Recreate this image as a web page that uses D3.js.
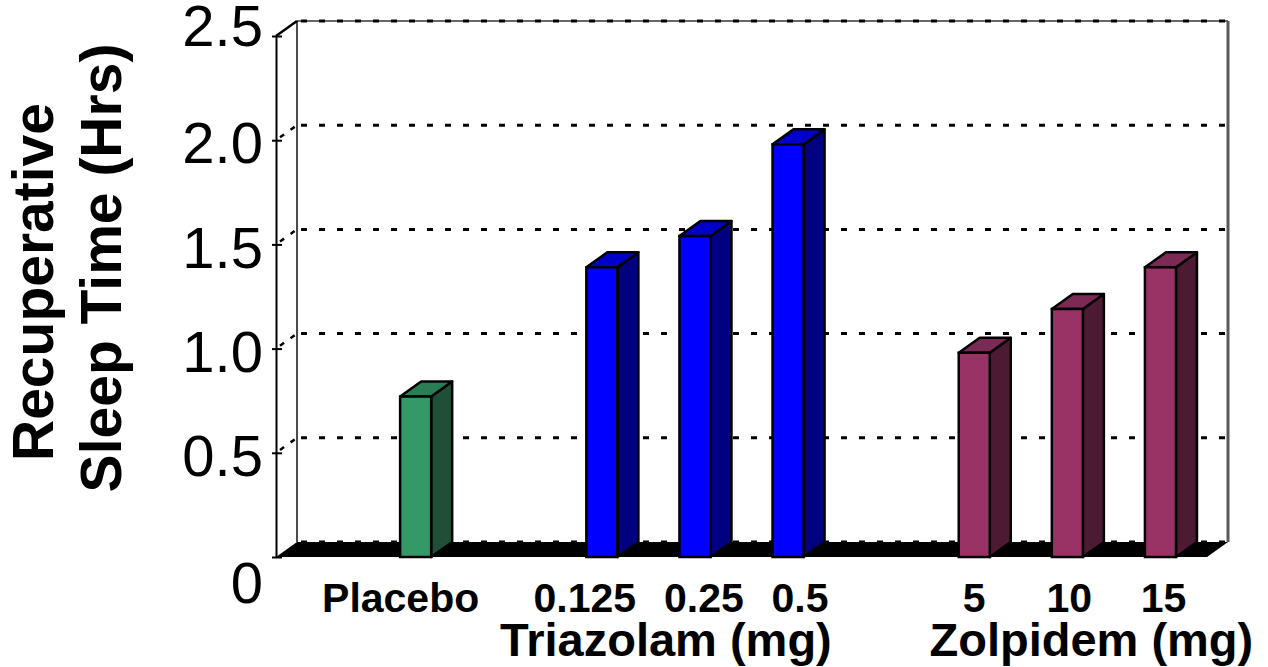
<!DOCTYPE html>
<html>
<head>
<meta charset="utf-8">
<script src="https://cdn.jsdelivr.net/npm/d3@7/dist/d3.min.js"></script>
<style>
  html, body { margin: 0; padding: 0; background: #fff; }
  svg { display: block; font-family: "Liberation Sans", Arial, Helvetica, sans-serif; }
</style>
</head>
<body>
<svg id="chart" width="1268" height="667"></svg>
<script>
// ---------- data ----------
const categories = ["Placebo", "0.125", "0.25", "0.5", "5", "10", "15"];
const groups     = ["Placebo", "Triazolam", "Triazolam", "Triazolam", "Zolpidem", "Zolpidem", "Zolpidem"];
const values     = [0.77, 1.39, 1.54, 1.98, 0.98, 1.19, 1.39];
const groupNames  = ["Placebo", "Triazolam", "Zolpidem"];
const groupTitles = ["", "Triazolam (mg)", "Zolpidem (mg)"];
const yTicks      = [0, 0.5, 1.0, 1.5, 2.0, 2.5];
const yTickLabels = ["0", "0.5", "1.0", "1.5", "2.0", "2.5"];
const yTitleLines = ["Recuperative", "Sleep Time (Hrs)"];

// ---------- style / layout ----------
const palette = {
  Placebo:   { front: "#339966", side: "#1f4f36", top: "#2b7d55" },
  Triazolam: { front: "#0000ff", side: "#000080", top: "#0000c8" },
  Zolpidem:  { front: "#993366", side: "#4d1a33", top: "#7a2a55" }
};
const depthX = 21, depthY = -15;
const groupTitleShift = { Triazolam: -29, Zolpidem: 24 };
const labelShift = { "Placebo": -15, "0.125": -17, "0.25": 9, "0.5": 12, "5": 0, "10": 2, "15": 3 };

const svg = d3.select("#chart");

// slots: one empty spacer before each group
const slots = [];
groupNames.forEach(g => {
  slots.push("gap-" + g);
  categories.forEach((c, i) => { if (groups[i] === g) slots.push(c); });
});

const x = d3.scaleBand().domain(slots).range([276, 1207]).padding(0);
const y = d3.scaleLinear().domain([0, 2.5]).range([557, 36]);
const barW = x.bandwidth() / 3;
const barX = c => x(c) + (x.bandwidth() - barW) / 2;

const x0 = x.range()[0], x1 = x.range()[1];
const yb = v => y(v) + depthY;   // back-wall y
const xb0 = x0 + depthX, xb1 = x1 + depthX;

// ---------- floor ----------
const pts = a => a.map(p => p.join(",")).join(" ");
svg.append("polygon")
  .attr("points", pts([[x0, y(0)], [x1, y(0)], [xb1, yb(0)], [xb0, yb(0)]]))
  .attr("fill", "#000");

// ---------- back wall gridlines ----------
const grid = svg.append("g");
grid.append("line")
  .attr("x1", xb0).attr("x2", xb1).attr("y1", yb(2.5)).attr("y2", yb(2.5))
  .attr("stroke", "#666").attr("stroke-width", 2);
grid.append("line")
  .attr("x1", xb1).attr("x2", xb1).attr("y1", yb(2.5)).attr("y2", yb(0))
  .attr("stroke", "#5a5a5a").attr("stroke-width", 3);
grid.append("line")
  .attr("x1", xb0).attr("x2", xb0).attr("y1", yb(2.5)).attr("y2", yb(0))
  .attr("stroke", "#111").attr("stroke-width", 1.5);

grid.selectAll("line.grid").data(yTicks).join("line")
  .attr("class", "grid")
  .attr("x1", xb0 + 4).attr("x2", xb1)
  .attr("y1", d => yb(d)).attr("y2", d => yb(d))
  .attr("stroke", "#000").attr("stroke-width", 3)
  .attr("stroke-dasharray", "6,12");

grid.selectAll("line.conn").data(yTicks.filter(d => d > 0 && d < 2.5)).join("line")
  .attr("class", "conn")
  .attr("x1", x0 + 4).attr("x2", xb0)
  .attr("y1", d => y(d) + depthY * 4 / depthX).attr("y2", d => yb(d))
  .attr("stroke", "#000").attr("stroke-width", 2.5)
  .attr("stroke-dasharray", "5,8");
grid.append("line")
  .attr("x1", x0).attr("x2", xb0).attr("y1", y(2.5)).attr("y2", yb(2.5))
  .attr("stroke", "#000").attr("stroke-width", 2.5);

// ---------- front axis ----------
const axis = d3.axisLeft(y)
  .tickValues(yTicks)
  .tickFormat((d, i) => yTickLabels[i])
  .tickSizeInner(-6)
  .tickSizeOuter(0)
  .tickPadding(13);
const ag = svg.append("g").attr("transform", `translate(${x0},0)`).call(axis);
ag.select(".domain").attr("stroke", "#000").attr("stroke-width", 2);
ag.selectAll(".tick line").attr("stroke", "#000").attr("stroke-width", 2).attr("x1", -4);
ag.selectAll(".tick text")
  .attr("font-size", 58)
  .attr("font-family", "'Liberation Sans', Arial, sans-serif")
  .attr("fill", "#000")
  .attr("dy", (d, i) => i === 0 ? "0.79em" : (i === yTicks.length - 1 ? "0.17em" : "0.39em"));

// ---------- bars ----------
const bars = svg.append("g").selectAll("g.bar")
  .data(categories.map((c, i) => ({ c, v: values[i], g: groups[i] })))
  .join("g").attr("class", "bar");

bars.append("polygon") // side
  .attr("points", d => {
    const r = barX(d.c) + barW, t = y(d.v), b = y(0);
    return pts([[r, t], [r + depthX, t + depthY], [r + depthX, b + depthY], [r, b]]);
  })
  .attr("fill", d => palette[d.g].side)
  .attr("stroke", "#000").attr("stroke-width", 2.5).attr("stroke-linejoin", "round");
bars.append("polygon") // top
  .attr("points", d => {
    const l = barX(d.c), r = l + barW, t = y(d.v);
    return pts([[l, t], [l + depthX, t + depthY], [r + depthX, t + depthY], [r, t]]);
  })
  .attr("fill", d => palette[d.g].top)
  .attr("stroke", "#000").attr("stroke-width", 2.5).attr("stroke-linejoin", "round");
bars.append("rect") // front
  .attr("x", d => barX(d.c)).attr("width", barW)
  .attr("y", d => y(d.v)).attr("height", d => y(0) - y(d.v))
  .attr("fill", d => palette[d.g].front)
  .attr("stroke", "#000").attr("stroke-width", 2.5);

// ---------- x labels ----------
svg.append("g").selectAll("text").data(categories).join("text")
  .attr("x", d => barX(d) + barW / 2 + (labelShift[d] || 0))
  .attr("y", 612)
  .attr("text-anchor", "middle")
  .attr("font-weight", "bold")
  .attr("font-size", 41)
  .attr("fill", "#000")
  .text(d => d);

svg.append("g").selectAll("text").data(groupNames.filter((g, i) => groupTitles[i])).join("text")
  .attr("x", g => {
    const cs = categories.filter((c, i) => groups[i] === g);
    const a = barX(cs[0]), b = barX(cs[cs.length - 1]) + barW;
    return (a + b) / 2 + (groupTitleShift[g] || 0);
  })
  .attr("y", 656)
  .attr("text-anchor", "middle")
  .attr("font-weight", "bold")
  .attr("font-size", 47)
  .attr("fill", "#000")
  .text(g => groupTitles[groupNames.indexOf(g)]);

// ---------- y title ----------
const titleX = [53, 121], titleY = [282, 268];
svg.append("g").selectAll("text").data(yTitleLines).join("text")
  .attr("transform", (d, i) => `translate(${titleX[i]},${titleY[i]}) rotate(-90)`)
  .attr("text-anchor", "middle")
  .attr("font-weight", "bold")
  .attr("font-size", 57)
  .attr("fill", "#000")
  .text(d => d);
</script>
</body>
</html>
